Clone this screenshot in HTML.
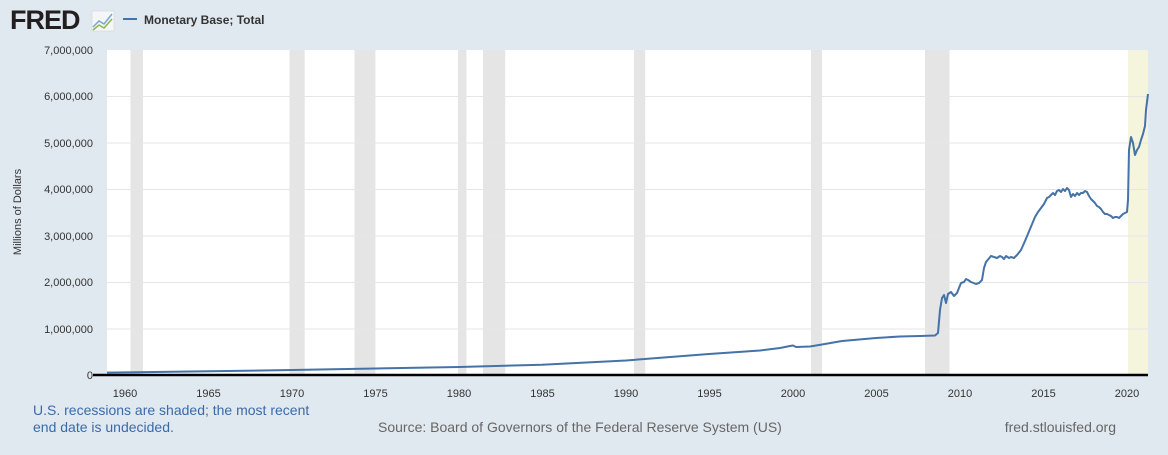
<!DOCTYPE html>
<html><head><meta charset="utf-8"><style>
body{margin:0;background:#e1e9f0;font-family:"Liberation Sans",Arial,sans-serif;}
</style></head><body>
<svg width="1168" height="450" xmlns="http://www.w3.org/2000/svg" font-family="Liberation Sans, Arial, sans-serif">
<rect width="1168" height="450" fill="#e1e9f0"/>
<text x="10" y="29" font-size="27" font-weight="bold" fill="#231f20" letter-spacing="-1">FRED</text>
<rect x="92" y="11" width="22" height="20" fill="#f4f6f8" stroke="#ccc" stroke-width="0.5"/>
<polyline points="93,27 99,21 104,24 112,14" fill="none" stroke="#7aa6cf" stroke-width="1.5"/>
<polyline points="93,30 99,25 104,28 112,19" fill="none" stroke="#8db74d" stroke-width="1.5"/>
<line x1="123" y1="19" x2="137" y2="19" stroke="#4572a7" stroke-width="2"/>
<text x="144" y="24" font-size="12" font-weight="bold" fill="#333">Monetary Base; Total</text>
<rect x="107" y="50" width="1041" height="325" fill="#fff"/>
<g fill="#e5e5e5">
<rect x="130.5" y="50" width="12.5" height="325"/>
<rect x="289.5" y="50" width="15.2" height="325"/>
<rect x="354.5" y="50" width="20.9" height="325"/>
<rect x="458" y="50" width="8.4" height="325"/>
<rect x="483" y="50" width="22.2" height="325"/>
<rect x="634" y="50" width="11.2" height="325"/>
<rect x="811" y="50" width="11" height="325"/>
<rect x="925" y="50" width="24.5" height="325"/>
</g>
<rect x="1128" y="50" width="20" height="325" fill="#f5f4dc"/>
<g stroke="#e6e6e6" stroke-width="1">
<line x1="107" x2="1148" y1="96.5" y2="96.5"/><line x1="107" x2="1148" y1="143" y2="143"/>
<line x1="107" x2="1148" y1="189.5" y2="189.5"/><line x1="107" x2="1148" y1="236" y2="236"/>
<line x1="107" x2="1148" y1="282.5" y2="282.5"/><line x1="107" x2="1148" y1="329" y2="329"/>
</g>
<g font-size="11" fill="#333" text-anchor="end">
<text x="93" y="54">7,000,000</text><text x="93" y="100">6,000,000</text><text x="93" y="147">5,000,000</text>
<text x="93" y="193">4,000,000</text><text x="93" y="240">3,000,000</text><text x="93" y="286">2,000,000</text>
<text x="93" y="333">1,000,000</text><text x="93" y="379">0</text>
</g>
<text transform="translate(21,212) rotate(-90)" font-size="11" fill="#333" text-anchor="middle">Millions of Dollars</text>
<polyline fill="none" stroke="#4572a7" stroke-width="2" stroke-linejoin="round" points="
107,372.6 125,372.4 209,371.3 292,370 375,368.5 459,367 542,364.7 626,360.5 709,354 760,350.5 780,348 790,346 793,345.5 796,347 810,346.5 822,344.5 842,341 876,338 900,336.5 920,336 935,335.5 938,333 940,310 942,298 944,295 946,303 948,294 951,292 954,296 957,293 961,283 964,282 966,279 968,280 971,282 976,284 979,283 982,280 984,268 986,262 991,256 994,257 997,258 1000,256 1002,257 1004,259 1006,256 1009,258 1011,257 1014,258 1017,255 1021,250 1025,241 1030,229 1035,217 1038,212 1041,208 1044,204 1047,198 1049,197 1051,195 1053,193 1055,195 1057,191 1059,190 1061,192 1063,189 1065,191 1067,188 1069,190 1071,197 1073,194 1075,196 1077,193 1079,195 1081,193 1083,193 1085,191 1087,192 1089,196 1091,199 1093,201 1095,203 1097,206 1099,207 1101,209 1103,212 1105,214 1107,214 1109,215 1111,216 1113,218 1115,217 1117,217 1119,218 1121,216 1123,214 1125,213 1127,212 1128,200 1129,150 1131,137 1133,143 1135,155 1137,150 1139,147 1141,140 1143,134 1145,126 1146,110 1148,94"/>
<line x1="93" x2="1148" y1="375" y2="375" stroke="#000" stroke-width="2.5"/>
<g font-size="11" fill="#333" text-anchor="middle">
<text x="125" y="397">1960</text><text x="208.5" y="397">1965</text><text x="292" y="397">1970</text>
<text x="375.5" y="397">1975</text><text x="459" y="397">1980</text><text x="542.5" y="397">1985</text>
<text x="626" y="397">1990</text><text x="709.5" y="397">1995</text><text x="793" y="397">2000</text>
<text x="876.5" y="397">2005</text><text x="960" y="397">2010</text><text x="1043.5" y="397">2015</text>
<text x="1127" y="397">2020</text>
</g>
<text x="33" y="415" font-size="14" fill="#3a6aa8">U.S. recessions are shaded; the most recent</text>
<text x="33" y="432" font-size="14" fill="#3a6aa8">end date is undecided.</text>
<text x="378" y="432" font-size="14" fill="#666">Source: Board of Governors of the Federal Reserve System (US)</text>
<text x="1116" y="432" font-size="14" fill="#666" text-anchor="end">fred.stlouisfed.org</text>
</svg>
</body></html>
